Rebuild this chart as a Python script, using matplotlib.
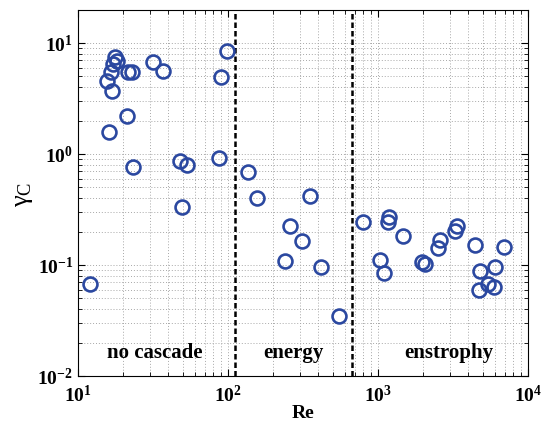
import matplotlib
matplotlib.use('Agg')
import matplotlib.pyplot as plt

plt.rcParams['font.family'] = ['Liberation Serif', 'DejaVu Serif']
plt.rcParams['mathtext.fontset'] = 'custom'
plt.rcParams['mathtext.rm'] = 'Liberation Serif'
plt.rcParams['mathtext.it'] = 'Liberation Serif:italic'

# Re and gamma_C
re_none = [12.0, 15.5, 16.8, 16.6, 17.2, 18.1, 17.6, 16.1, 21.1, 23.4,
           21.6, 22.8, 31.8, 37.0, 98.9, 89.3, 87.1, 47.9, 53.0, 49.1]
gam_none = [0.067, 4.57, 3.72, 5.45, 6.47, 6.93, 7.43, 1.57, 2.21, 0.76,
            5.45, 5.45, 6.70, 5.63, 8.53, 4.97, 0.915, 0.87, 0.80, 0.331]

re_energy = [136, 157, 352, 259, 310, 240, 415, 550]
gam_energy = [0.684, 0.402, 0.421, 0.226, 0.166, 0.108, 0.0953, 0.0345]

re_enst = [798, 1189, 1172, 1461, 1031, 1096, 1955, 2057, 2590, 2523,
           3348, 3261, 4432, 6918, 4786, 6026, 4713, 5433, 5933]
gam_enst = [0.243, 0.269, 0.243, 0.181, 0.111, 0.0847, 0.106, 0.102, 0.169, 0.141,
            0.226, 0.201, 0.151, 0.144, 0.0889, 0.0966, 0.0599, 0.0675, 0.063]

boundaries = [112, 670]
regions = ['no cascade', 'energy', 'enstrophy']
region_x = [32.6, 275, 2974]

fig = plt.figure(figsize=(5.42, 4.27), dpi=100)
ax = fig.add_axes([0.1439, 0.1171, 0.8303, 0.856])

re_all = re_none + re_energy + re_enst
gam_all = gam_none + gam_energy + gam_enst
ax.plot(re_all, gam_all, 'o', mfc='none', mec='#2b48a0', ms=10, mew=1.9, zorder=3)

for b in boundaries:
    ax.axvline(b, color='black', lw=1.8, ls=(0, (2.2, 1.2)))

for name, x in zip(regions, region_x):
    ax.text(x, 0.0164, name, ha='center', va='center', fontsize=15, fontweight='bold')

ax.set_xscale('log')
ax.set_yscale('log')
ax.set_xlim(10, 1e4)
ax.set_ylim(0.01, 19.6)

ax.grid(True, which='both', ls=(0, (1, 2)), color='#a8a8a8', lw=0.7)
ax.tick_params(which='both', direction='in', top=True, right=True, labelsize=14)
ax.tick_params(axis='x', pad=6)
ax.tick_params(which='major', length=5)
ax.tick_params(which='minor', length=3)
for lab in ax.get_xticklabels() + ax.get_yticklabels():
    lab.set_fontweight('bold')

ax.set_xlabel('Re', fontsize=14, fontweight='bold', labelpad=-1)
ax.set_ylabel(r'$\mathrm{\gamma_C}$', fontsize=19, labelpad=2)

fig.savefig('out.png', dpi=100)
